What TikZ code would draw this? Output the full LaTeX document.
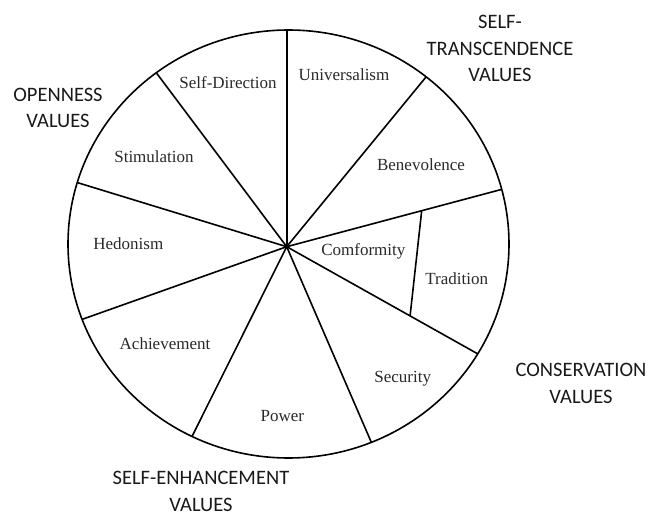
\documentclass[tikz,border=0pt]{standalone}
\usepackage{fontspec}
\setmainfont{Liberation Serif}
\newfontfamily\groupfont{Carlito}
\usetikzlibrary{calc}
\definecolor{valuetext}{gray}{0.16}
\definecolor{grouptext}{gray}{0.10}
\tikzset{
  wheel/.style={line width=1.6pt, black},
  value/.style={anchor=base, inner sep=0pt, font=\fontsize{17}{20}\selectfont, text=valuetext},
  group/.style={anchor=base, inner sep=0pt, align=center, text=grouptext,
    font=\groupfont\fontsize{20.5}{26.5}\selectfont},
}
\begin{document}
\begin{tikzpicture}[x=1pt, y=-1pt]
\useasboundingbox (0,0) rectangle (657,516);

% outer rim of the value wheel
\draw[wheel] (288.5,244) ellipse [x radius=220.5, y radius=214];

% hub where all spokes meet
\coordinate (hub) at (286.7,246.7);
\fill (hub) circle [radius=2pt];

% spoke ends on the rim
\coordinate (s1) at (286.7,30);
\coordinate (s2) at (156.7,73.3);
\coordinate (s3) at (77.7,182.7);
\coordinate (s4) at (82.3,319.3);
\coordinate (s5) at (192,436.5);
\coordinate (s6) at (371.5,442.7);
\coordinate (s7) at (478,354);
\coordinate (s8) at (502,189.3);
\coordinate (s9) at (426,77);

\foreach \s in {s1,s2,s3,s4,s5,s6,s7,s8,s9}
  \draw[wheel] (hub) -- (\s);

% divider between Conformity and Tradition
\coordinate (d1) at ($(hub)!0.627!(s8)$);
\coordinate (d2) at ($(hub)!0.645!(s7)$);
\draw[wheel] (d1) -- (d2);

% value types
\node[value] (selfdir) at (228,89)   {Self-Direction};
\node[value] (univ)    at (344,81)   {Universalism};
\node[value] (stim)    at (154,163)  {Stimulation};
\node[value] (benev)   at (421,171)  {Benevolence};
\node[value] (hedon)   at (128.3,249.5) {Hedonism};
\node[value] (conf)    at (363.3,255.5) {Comformity};
\node[value] (trad)    at (456.7,285) {Tradition};
\node[value] (achiev)  at (165,349)  {Achievement};
\node[value] (secur)   at (402.7,382) {Security};
\node[value] (power)   at (282.3,421.5) {Power};

% higher-order groups (anchored at the baseline of the last line)
\node[group] (trans) at (500,82)  {SELF-\\TRANSCENDENCE\\VALUES};
\node[group] (open)  at (58,128)  {OPENNESS\\VALUES};
\node[group] (cons)  at (581,403) {CONSERVATION\\VALUES};
\node[group] (enh)   at (201,511) {SELF-ENHANCEMENT\\VALUES};
\end{tikzpicture}
\end{document}
